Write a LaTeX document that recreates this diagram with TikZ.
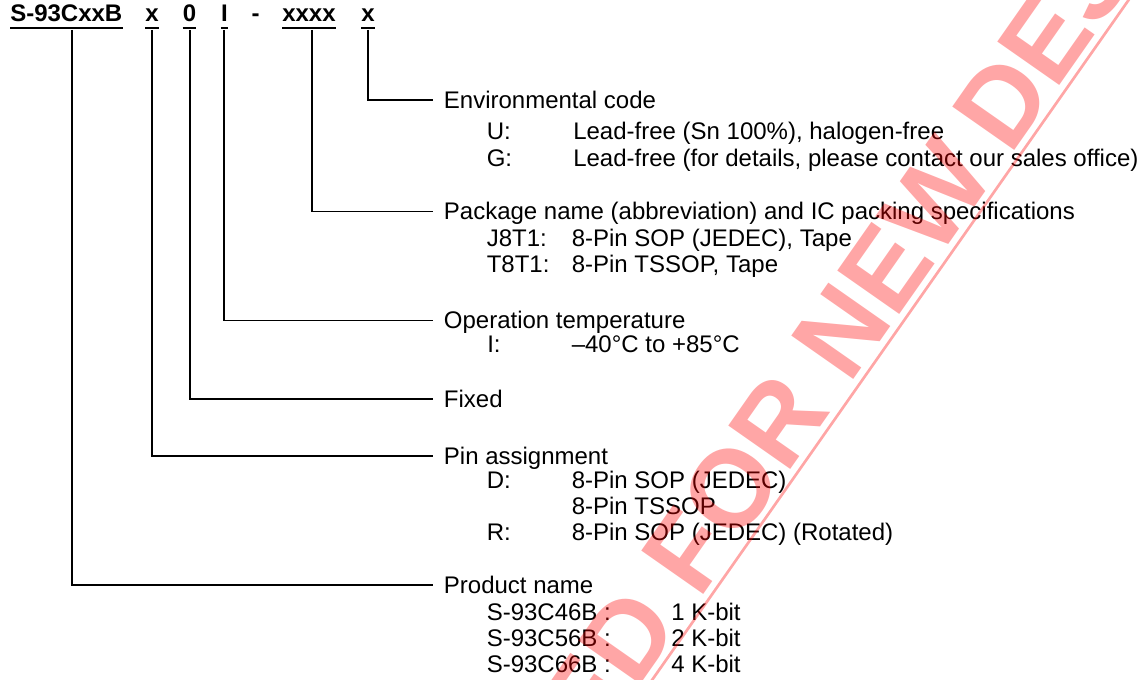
\documentclass[tikz,border=0pt]{standalone}
\usepackage{fontspec}
\setmainfont{Liberation Sans}
\begin{document}
\begin{tikzpicture}[x=0.75pt,y=-0.75pt,
  conn/.style={line width=1.15pt},
  uline/.style={line width=1.5pt},
  ttl/.style={font=\fontsize{18pt}{20pt}\selectfont\bfseries, inner sep=0pt, anchor=base},
  hdr/.style={font=\fontsize{18pt}{20pt}\selectfont, anchor=west, inner xsep=8pt, inner ysep=0pt, text height=12.75pt, text depth=0pt},
  sub/.style={font=\fontsize{18pt}{20pt}\selectfont, anchor=base west, inner sep=0pt},
  wmtext/.style={font=\fontsize{82.5pt}{82.5pt}\selectfont\bfseries, text=red, text opacity=0.35, inner sep=0pt, rotate=55},
  wmline/.style={draw=red, draw opacity=0.35, line width=2pt}]
\useasboundingbox (0,0) rectangle (1145,680);

% title
\node[ttl, anchor=base west] (tname) at (10,22) {S-93CxxB};
\node[ttl] (tpin)  at (152,22) {x};
\node[ttl] (tfix)  at (189.5,22) {0};
\node[ttl] (ttemp) at (224.5,22) {I};
\node[ttl] (tdash) at (255.5,22) {-};
\node[ttl] (tpkg)  at (309,22) {xxxx};
\node[ttl] (tenv)  at (368,22) {x};
\foreach \n in {tname,tpin,tfix,ttemp,tpkg,tenv}
  \draw[uline] ([yshift=-4.6pt]\n.base west) -- ([yshift=-4.6pt]\n.base east);

% connector start points
\coordinate (sname) at (72,30);
\coordinate (spin)  at (152,30);
\coordinate (sfix)  at (190,30);
\coordinate (stemp) at (224,30);
\coordinate (spkg)  at (312,30);
\coordinate (senv)  at (368,30);

% headers
\node[hdr] (henv)  at (433,100)   {Environmental code};
\node[hdr] (hpkg)  at (433,211.5) {Package name (abbreviation) and IC packing specifications};
\node[hdr] (htemp) at (433,320.5) {Operation temperature};
\node[hdr] (hfix)  at (433,399)   {Fixed};
\node[hdr] (hpin)  at (433,456)   {Pin assignment};
\node[hdr] (hprod) at (433,585)   {Product name};

% connectors
\draw[conn] (senv)  |- (henv.west);
\draw[conn] (spkg)  |- (hpkg.west);
\draw[conn] (stemp) |- (htemp.west);
\draw[conn] (sfix)  |- (hfix.west);
\draw[conn] (spin)  |- (hpin.west);
\draw[conn] (sname) |- (hprod.west);

% environmental code
\node[sub] (eU)  at (486.5,140) {U:};
\node[sub] (eUt) at (573,140) {Lead-free (Sn 100\%), halogen-free};
\node[sub] (eG)  at (486.5,167) {G:};
\node[sub] (eGt) at (573,167) {Lead-free (for details, please contact our sales office)};

% package
\node[sub] (pJ)  at (486.5,247) {J8T1:};
\node[sub] (pJt) at (571.5,247) {8-Pin SOP (JEDEC), Tape};
\node[sub] (pT)  at (486.5,273) {T8T1:};
\node[sub] (pTt) at (571.5,273) {8-Pin TSSOP, Tape};

% temperature
\node[sub] (oI)  at (487,353) {I:};
\node[sub] (oIt) at (571.5,353) {–40°C to +85°C};

% pin assignment
\node[sub] (aD)  at (486.5,488) {D:};
\node[sub] (aDt) at (571.5,488) {8-Pin SOP (JEDEC)};
\node[sub] (aTt) at (571.5,514) {8-Pin TSSOP};
\node[sub] (aR)  at (486.5,540) {R:};
\node[sub] (aRt) at (571.5,540) {8-Pin SOP (JEDEC) (Rotated)};

% product name
\node[sub] (n1)  at (486.5,620) {S-93C46B :};
\node[sub] (n1t) at (671,620) {1 K-bit};
\node[sub] (n2)  at (486.5,646) {S-93C56B :};
\node[sub] (n2t) at (671,646) {2 K-bit};
\node[sub] (n3)  at (486.5,672) {S-93C66B :};
\node[sub] (n3t) at (671,672) {4 K-bit};

% watermark
\begin{scope}
\clip (0,0) rectangle (1145,680);
\coordinate (wm) at (1010,157);
\node[wmtext, anchor=base west] (wm2) at (wm) {DESIGN};
\node[wmtext, anchor=base east] (wm1) at (wm) {NOT RECOMMENDED FOR NEW\kern0.2em};
\coordinate (ulA) at (611.9,737.3);
\coordinate (ulB) at (1157.2,-40.8);
\draw[wmline] (ulA) -- (ulB);
\end{scope}
\end{tikzpicture}
\end{document}
